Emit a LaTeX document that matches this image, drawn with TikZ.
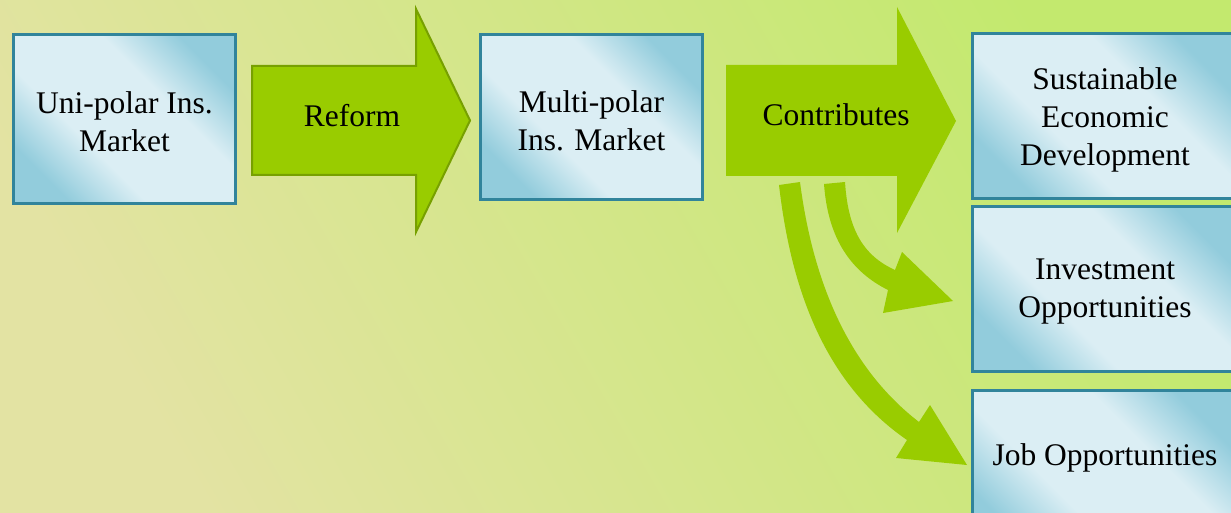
\documentclass[tikz,border=0pt]{standalone}
\usepackage{fontspec}
\setmainfont{Liberation Serif}
\definecolor{boxdk}{HTML}{92CCDC}
\definecolor{boxlt}{HTML}{DBEEF4}
\definecolor{boxline}{HTML}{31849B}
\definecolor{arrgreen}{HTML}{99CC00}
\definecolor{arrline}{HTML}{77A000}
\definecolor{bgbeige}{HTML}{E3E3A3}
\definecolor{bggreen}{HTML}{C3E96E}
\pgfdeclarehorizontalshading{boxshade}{100bp}{color(0bp)=(boxdk); color(25bp)=(boxdk); color(39bp)=(boxlt); color(61bp)=(boxlt); color(75bp)=(boxdk); color(100bp)=(boxdk)}
\pgfdeclarehorizontalshading{bgshade}{100bp}{color(0bp)=(bgbeige); color(25bp)=(bgbeige); color(75bp)=(bggreen); color(100bp)=(bggreen)}
\tikzset{
  box/.style={draw=boxline, line width=3pt, shading=boxshade, shading angle=45,
    minimum height=165pt, inner sep=0pt},
  greenarrow/.style={fill=arrgreen},
  lbl/.style={font=\fontsize{31.5}{38}\selectfont, align=center},
  boxtext/.style={label={[lbl, yshift=-3pt]center:{#1}}},
}
\begin{document}
\begin{tikzpicture}[x=1pt,y=-1pt]
\useasboundingbox (0,0) rectangle (1231,513);
\shade[shading=bgshade, shading angle=30] (0,0) rectangle (1231,513);

% boxes
\node[box, minimum width=222pt, minimum height=169pt, boxtext={Uni-polar Ins.\\Market}] (unipolar) at (124.5,119) {};
\node[box, minimum width=222pt, boxtext={Multi-polar\\Ins. Market}] (multipolar) at (591.5,117.5) {};
\node[box, minimum width=265pt, boxtext={Sustainable\\Economic\\Development}] (sustain) at (1105,116.5) {};
\node[box, minimum width=265pt, boxtext={Investment\\Opportunities}] (invest) at (1105,289) {};
\node[box, minimum width=265pt] (jobbox) at (1105,472.5) {};
\node[lbl] (jobtext) at (1105,458) {Job Opportunities};

% Reform arrow
\draw[greenarrow, draw=arrline, line width=2pt]
  (252,66) -- (416,66) -- (416,9) -- (470,120.5) -- (416,232) -- (416,175) -- (252,175) -- cycle;
\node[lbl] (reform) at (352,116) {Reform};

% Contributes arrow
\fill[greenarrow]
  (726,65) -- (897,65) -- (897,7) -- (956,121) -- (897,233) -- (897,176) -- (726,176) -- cycle;
\node[lbl] (contrib) at (836,115) {Contributes};

% curved arrow to Investment
\fill[greenarrow]
  (824,184) .. controls (828,240) and (852,272) .. (888,290)
  -- (883,313) -- (953,301) -- (902,252) -- (895,270)
  .. controls (862,255) and (848,228) .. (845,182) -- cycle;

% curved arrow to Job
\fill[greenarrow]
  (779,185) .. controls (790,280) and (820,380) .. (907,440)
  -- (896,458) -- (967,465) -- (930,405) -- (919,422)
  .. controls (845,365) and (812,275) .. (800,182) -- cycle;
\end{tikzpicture}
\end{document}
